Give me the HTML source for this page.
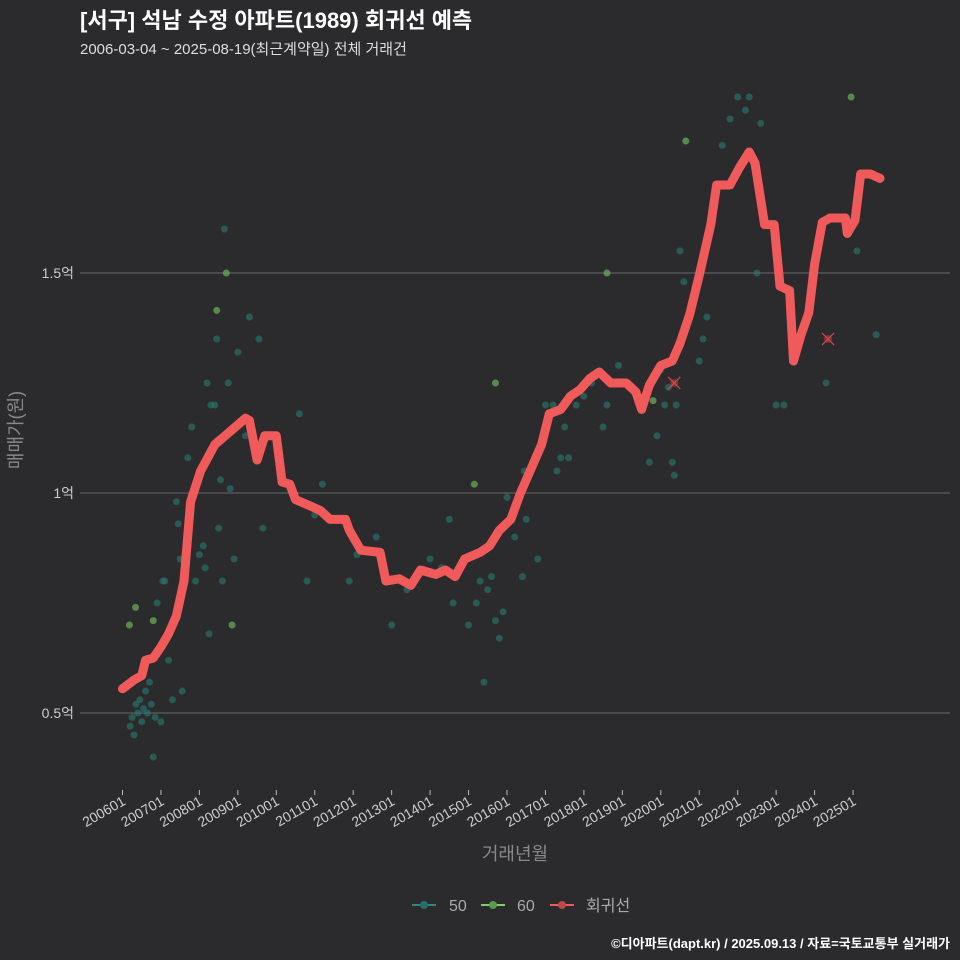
<!DOCTYPE html>
<html><head><meta charset="utf-8"><style>
body{margin:0;background:#2b2b2d;}
svg{display:block;font-family:"Liberation Sans","Noto Sans CJK KR",sans-serif;}
</style></head><body>
<svg id="c" width="960" height="960" viewBox="0 0 960 960">
<rect width="960" height="960" fill="#2b2b2d"/>
<text x="80" y="28" fill="#ffffff" font-size="22" font-weight="bold">[서구] 석남 수정 아파트(1989) 회귀선 예측</text>
<text x="80" y="54" fill="#dddddd" font-size="15">2006-03-04 ~ 2025-08-19(최근계약일) 전체 거래건</text>
<g id="grid"></g>
<g id="yax"></g>
<g id="xax"></g>
<g id="pts"></g>
<g id="reg"></g>
<g id="mk"></g>
<text x="515" y="860" fill="#888" font-size="18" text-anchor="middle">거래년월</text>
<text transform="translate(22,430) rotate(-90)" fill="#888" font-size="18" text-anchor="middle">매매가(원)</text>
<g>
<g><line x1="412" y1="905" x2="436" y2="905" stroke="#2a8a85" stroke-width="2"/><circle cx="424" cy="905" r="4" fill="#2a6e6a"/><text x="449" y="911" fill="#aaa" font-size="16">50</text></g>
<g><line x1="481" y1="905" x2="505" y2="905" stroke="#7ed069" stroke-width="2"/><circle cx="493" cy="905" r="4" fill="#5b9a50"/><text x="517" y="911" fill="#aaa" font-size="16">60</text></g>
<g><line x1="550" y1="905" x2="574" y2="905" stroke="#f05a5a" stroke-width="2"/><circle cx="562" cy="905" r="4" fill="#c04848"/><text x="586" y="911" fill="#aaa" font-size="16">회귀선</text></g>
</g>
<text x="950" y="948" fill="#ffffff" font-size="13" font-weight="bold" text-anchor="end">©디아파트(dapt.kr) / 2025.09.13 / 자료=국토교통부 실거래가</text>
</svg>
<script>
const yTicks=[0.5,1.0,1.5];
const yTickLabels=["0.5억","1억","1.5억"];
const xTickYears=[2006,2007,2008,2009,2010,2011,2012,2013,2014,2015,2016,2017,2018,2019,2020,2021,2022,2023,2024,2025];
const regT=[2006.0,2006.3,2006.5,2006.6,2006.8,2007.0,2007.2,2007.4,2007.5,2007.6,2007.77,2008.03,2008.4,2008.8,2009.2,2009.3,2009.5,2009.7,2010.0,2010.15,2010.35,2010.5,2010.9,2011.15,2011.4,2011.8,2011.9,2012.2,2012.7,2012.85,2013.2,2013.5,2013.75,2014.15,2014.4,2014.65,2014.9,2015.3,2015.55,2015.8,2016.1,2016.35,2016.6,2016.9,2017.1,2017.4,2017.65,2017.9,2018.15,2018.4,2018.7,2019.1,2019.35,2019.5,2019.7,2020.0,2020.3,2020.5,2020.75,2021.0,2021.3,2021.45,2021.8,2022.05,2022.3,2022.45,2022.7,2022.95,2023.1,2023.35,2023.45,2023.65,2023.85,2024.0,2024.2,2024.4,2024.8,2024.85,2025.05,2025.2,2025.45,2025.7];
const regV=[0.555,0.575,0.585,0.62,0.625,0.65,0.68,0.72,0.76,0.80,0.98,1.05,1.11,1.14,1.17,1.165,1.075,1.13,1.13,1.025,1.02,0.985,0.97,0.96,0.94,0.94,0.915,0.87,0.865,0.80,0.805,0.79,0.825,0.815,0.825,0.81,0.85,0.865,0.88,0.915,0.94,1.0,1.05,1.11,1.18,1.19,1.22,1.235,1.26,1.275,1.25,1.25,1.23,1.19,1.245,1.29,1.30,1.34,1.405,1.495,1.61,1.70,1.70,1.74,1.775,1.75,1.61,1.61,1.47,1.46,1.30,1.36,1.41,1.52,1.615,1.625,1.625,1.59,1.62,1.725,1.725,1.715];
const p50T=[2006.2,2006.25,2006.3,2006.35,2006.4,2006.45,2006.5,2006.55,2006.6,2006.65,2006.7,2006.75,2006.8,2006.85,2006.9,2007.0,2007.05,2007.1,2007.2,2007.3,2007.4,2007.45,2007.5,2007.55,2007.6,2007.7,2007.8,2007.9,2008.0,2008.1,2008.15,2008.2,2008.25,2008.3,2008.4,2008.45,2008.5,2008.55,2008.6,2008.65,2008.75,2008.8,2008.9,2009.0,2009.2,2009.3,2009.55,2009.65,2010.1,2010.6,2010.8,2011.0,2011.2,2011.9,2012.1,2012.6,2013.0,2013.4,2014.0,2014.3,2014.5,2014.6,2015.0,2015.2,2015.3,2015.4,2015.5,2015.6,2015.7,2015.8,2015.9,2016.0,2016.2,2016.4,2016.45,2016.5,2016.8,2017.0,2017.2,2017.3,2017.4,2017.5,2017.6,2017.8,2018.0,2018.2,2018.5,2018.6,2018.7,2018.9,2019.7,2019.9,2020.0,2020.1,2020.2,2020.3,2020.35,2020.4,2020.5,2020.6,2020.7,2021.0,2021.1,2021.2,2021.4,2021.6,2021.8,2022.0,2022.2,2022.3,2022.5,2022.6,2023.0,2023.2,2024.3,2025.1,2025.6];
const p50V=[0.47,0.49,0.45,0.52,0.5,0.53,0.48,0.51,0.55,0.5,0.57,0.52,0.4,0.49,0.75,0.48,0.8,0.8,0.62,0.53,0.98,0.93,0.85,0.55,0.85,1.08,1.15,0.8,0.86,0.88,0.83,1.25,0.68,1.2,1.2,1.35,0.92,1.03,0.8,1.6,1.25,1.01,0.85,1.32,1.13,1.4,1.35,0.92,1.04,1.18,0.8,0.95,1.02,0.8,0.86,0.9,0.7,0.78,0.85,0.83,0.94,0.75,0.7,0.75,0.8,0.57,0.78,0.81,0.71,0.67,0.73,0.99,0.9,0.81,1.05,0.94,0.85,1.2,1.2,1.05,1.08,1.15,1.08,1.2,1.22,1.25,1.15,1.2,1.25,1.29,1.07,1.13,1.28,1.2,1.24,1.07,1.04,1.2,1.55,1.48,1.4,1.3,1.35,1.4,1.65,1.79,1.85,1.9,1.87,1.9,1.5,1.84,1.2,1.2,1.25,1.55,1.36];
const p60T=[2006.18,2006.34,2006.8,2008.45,2008.7,2008.85,2015.15,2015.7,2018.6,2019.8,2020.65,2024.95];
const p60V=[0.70,0.74,0.71,1.415,1.50,0.70,1.02,1.25,1.50,1.21,1.80,1.90];
const mkT=[2020.35,2024.35];
const mkV=[1.25,1.35];

const NS="http://www.w3.org/2000/svg";
const xs=t=>122.5+38.45*(t-2006);
const ys=v=>493-(v-1)*440;
function mk(tag,attrs,parent){const e=document.createElementNS(NS,tag);for(const k in attrs)e.setAttribute(k,attrs[k]);document.getElementById(parent).appendChild(e);return e;}

yTicks.forEach((v,i)=>{
  const l=mk('line',{x1:80,x2:950,y1:ys(v),y2:ys(v),stroke:'#6a6a6a','stroke-width':1},'grid');
  
  
  const t=mk('text',{x:74,y:ys(v)+5,fill:'#ccc','font-size':14,'text-anchor':'end'},'yax');
  t.textContent=yTickLabels[i];
  
  
});
xTickYears.forEach(y=>{
  const x=xs(y);
  const tk=mk('line',{x1:x,x2:x,y1:790,y2:795,stroke:'#bbb','stroke-width':1},'xax');
  
  
  const t=mk('text',{transform:`translate(${x+4},804) rotate(-30)`,fill:'#ccc','font-size':14,'text-anchor':'end'},'xax');
  t.textContent=y+'01';
  
  
});
p50T.forEach((t,i)=>{
  const c=mk('circle',{cx:xs(t),cy:ys(p50V[i]),r:3.5,fill:'#2a7a72','fill-opacity':0.6},'pts');
  
  
});
p60T.forEach((t,i)=>{
  const c=mk('circle',{cx:xs(t),cy:ys(p60V[i]),r:3.5,fill:'#6aa85a','fill-opacity':0.75},'pts');
  
  
});
let d='';
regT.forEach((t,i)=>{d+=(i?'L':'M')+xs(t).toFixed(1)+','+ys(regV[i]).toFixed(1);});
const p=mk('path',{d:d,fill:'none',stroke:'#f05a5a','stroke-width':9,'stroke-linejoin':'round','stroke-linecap':'round'},'reg');


mkT.forEach((t,i)=>{
  const x=xs(t),y=ys(mkV[i]);
  const c=mk('circle',{cx:x,cy:y,r:4,fill:'#a03a3a','fill-opacity':0.7},'mk');
  
  
  const l=mk('path',{d:`M${x-6},${y-6}L${x+6},${y+6}M${x-6},${y+6}L${x+6},${y-6}`,stroke:'#e04848','stroke-width':1.2},'mk');
  
  
});
</script>
</body></html>
